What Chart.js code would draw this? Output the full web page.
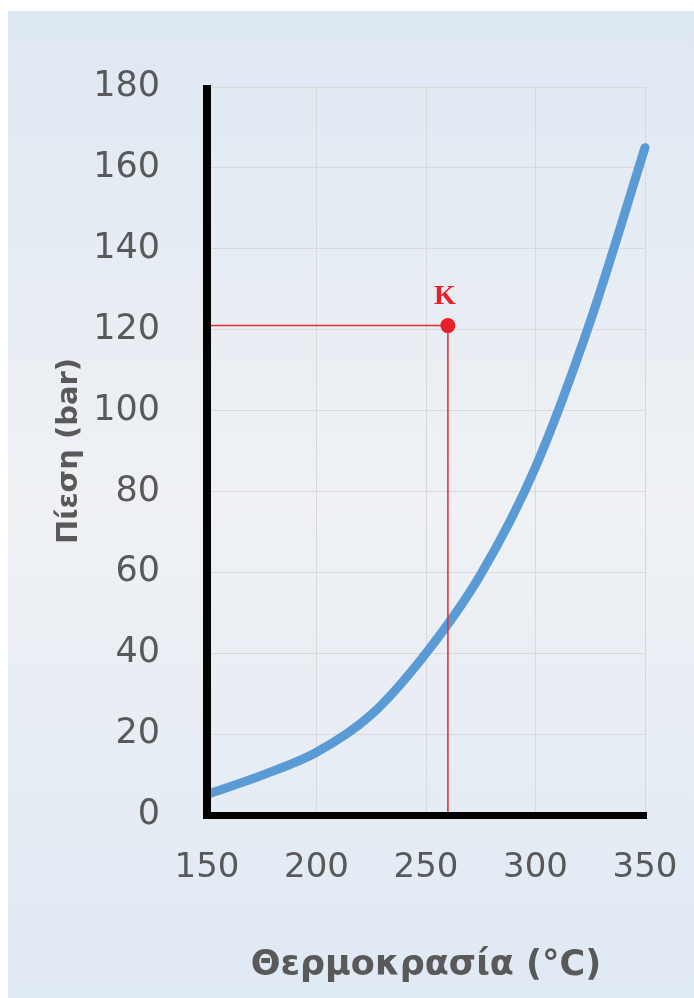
<!DOCTYPE html>
<html>
<head>
<meta charset="utf-8">
<title>Πίεση – Θερμοκρασία</title>
<script src="https://cdn.jsdelivr.net/npm/chart.js@4.4.0/dist/chart.umd.min.js"></script>
<style>
  html, body { margin: 0; padding: 0; background: #ffffff; }
  canvas { display: block; }
</style>
</head>
<body>
<canvas id="chart" width="694" height="998"></canvas>
<script>
// Saturation curve: temperature (°C) and pressure (bar)
const temperatures = [150, 175, 200, 225, 250, 275, 300, 325, 350];
const pressures    = [5.1, 9.8, 15.5, 24.8, 40, 59.5, 86, 122, 165];

// Axis ranges and tick steps
const xRange = [150, 350];
const yRange = [0, 180];
const xStep = 50;
const yStep = 20;

// Marked state K
const pointK = { x: 260, y: 121 };
const pointKLabel = 'Κ';

// Axis titles
const xTitle = 'Θερμοκρασία (°C)';
const yTitle = 'Πίεση (bar)';

const textGrey = '#595959';
const red = '#e8202a';

const curveData = temperatures.map((t, i) => ({ x: t, y: pressures[i] }));
const guideData = [
  { x: xRange[0], y: pointK.y },
  { x: pointK.x, y: pointK.y },
  { x: pointK.x, y: yRange[0] }
];

// Panel background with a soft vertical gradient
const backgroundPlugin = {
  id: 'panelBackground',
  beforeDraw(chart) {
    const { ctx, width, height } = chart;
    ctx.save();
    ctx.fillStyle = '#ffffff';
    ctx.fillRect(0, 0, width, height);
    const g = ctx.createLinearGradient(0, 11, 0, height);
    g.addColorStop(0, '#dee8f3');
    g.addColorStop(0.5, '#eff1f4');
    g.addColorStop(1, '#dfe9f4');
    ctx.fillStyle = g;
    ctx.fillRect(8, 11, width - 8, height - 11);
    ctx.restore();
  }
};

// Heavy black axis lines drawn above the curve, and the K label
const overlayPlugin = {
  id: 'axesAndLabel',
  afterDatasetsDraw(chart) {
    const { ctx, chartArea } = chart;
    const { left, right, top, bottom } = chartArea;
    ctx.save();
    ctx.fillStyle = '#000000';
    ctx.fillRect(left - 4, top - 2, 8, bottom - top + 5);
    ctx.fillRect(left - 4, bottom - 3, right - left + 6, 7);

    const px = chart.scales.x.getPixelForValue(pointK.x);
    const py = chart.scales.y.getPixelForValue(pointK.y);
    ctx.fillStyle = red;
    ctx.font = 'bold 28px "Liberation Serif", serif';
    ctx.textAlign = 'center';
    ctx.textBaseline = 'middle';
    ctx.fillText(pointKLabel, px - 3, py - 29);
    ctx.restore();
  }
};

new Chart(document.getElementById('chart'), {
  type: 'scatter',
  data: {
    datasets: [
      {
        data: [pointK],
        pointRadius: 7.5,
        pointHoverRadius: 7.5,
        backgroundColor: red,
        borderWidth: 0,
        showLine: false,
        order: 0
      },
      {
        data: guideData,
        showLine: true,
        borderColor: '#ea2830',
        borderWidth: 1.5,
        pointRadius: 0,
        tension: 0,
        order: 1
      },
      {
        data: curveData,
        showLine: true,
        borderColor: '#5b9bd5',
        borderWidth: 9,
        borderCapStyle: 'round',
        pointRadius: 0,
        cubicInterpolationMode: 'monotone',
        clip: { left: 0, top: false, right: false, bottom: 0 },
        order: 2
      }
    ]
  },
  options: {
    responsive: false,
    devicePixelRatio: 1,
    animation: false,
    events: [],
    layout: { padding: { top: 87, right: 49, bottom: 0, left: 0 } },
    plugins: {
      legend: { display: false },
      tooltip: { enabled: false }
    },
    scales: {
      x: {
        type: 'linear',
        min: xRange[0],
        max: xRange[1],
        afterFit(scale) {
          scale.height = 183;
          scale.paddingLeft = 0;
          scale.paddingRight = 0;
        },
        border: { display: false },
        grid: { color: '#d9d9d9', lineWidth: 1, drawTicks: false },
        ticks: {
          stepSize: xStep,
          padding: 33,
          color: textGrey,
          font: { family: '"DejaVu Sans", sans-serif', size: 34 }
        },
        title: {
          display: true,
          text: xTitle,
          color: textGrey,
          font: { family: '"DejaVu Sans", sans-serif', size: 35, weight: 'bold' },
          padding: { top: 0, bottom: 11 }
        }
      },
      y: {
        type: 'linear',
        min: yRange[0],
        max: yRange[1],
        afterFit(scale) {
          scale.width = 207;
          scale.paddingTop = 0;
          scale.paddingBottom = 0;
        },
        border: { display: false },
        grid: { color: '#d9d9d9', lineWidth: 1, drawTicks: false },
        ticks: {
          stepSize: yStep,
          padding: 47,
          color: textGrey,
          font: { family: '"DejaVu Sans", sans-serif', size: 35 }
        },
        title: {
          display: true,
          text: yTitle,
          color: textGrey,
          font: { family: '"DejaVu Sans", sans-serif', size: 29, weight: 'bold' },
          padding: { top: 52, bottom: 0 }
        }
      }
    }
  },
  plugins: [backgroundPlugin, overlayPlugin]
});
</script>
</body>
</html>
